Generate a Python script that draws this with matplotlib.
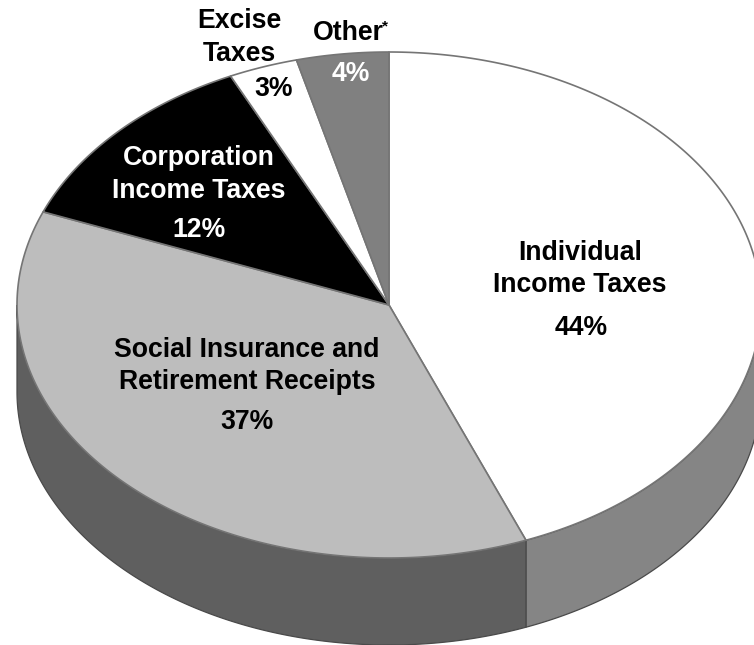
import numpy as np
import matplotlib
matplotlib.use("Agg")
import matplotlib.pyplot as plt

plt.rcParams['font.family'] = ['Liberation Sans', 'DejaVu Sans']

# Receipts by source, percent of total, clockwise from twelve o'clock
sources = ["Individual Income Taxes", "Social Insurance and Retirement Receipts",
           "Corporation Income Taxes", "Excise Taxes", "Other"]
shares = [44, 37, 12, 3, 4]
top_colors = ["#ffffff", "#bdbdbd", "#000000", "#ffffff", "#808080"]
side_colors = ["#858585", "#5f5f5f", "#5f5f5f", "#5f5f5f", "#5f5f5f"]

CX, CY, RX, RY, DEPTH = 389, 305, 372, 253, 87
EDGE = "#757575"

fig = plt.figure(figsize=(7.54, 6.45), dpi=100)
ax = fig.add_axes([0, 0, 1, 1])
ax.set_xlim(0, 754)
ax.set_ylim(645, 0)
ax.axis("off")


def rim(a0, a1, n=240):
    """Points on the top ellipse; angle runs clockwise from the top, in degrees."""
    t = np.radians(np.linspace(a0, a1, n))
    return CX + RX * np.sin(t), CY - RY * np.cos(t)


edges = np.concatenate([[0], np.cumsum(shares)]) * 360.0 / sum(shares)

# Side wall: only the lower half of the ellipse (90..270 degrees) is visible
for a0, a1, col in zip(edges[:-1], edges[1:], side_colors):
    lo, hi = max(a0, 90), min(a1, 270)
    if lo >= hi:
        continue
    x, y = rim(lo, hi)
    ax.fill(np.r_[x, x[::-1]], np.r_[y, y[::-1] + DEPTH],
            facecolor=col, edgecolor="#4a4a4a", linewidth=0.9, zorder=1)

# Top face
for a0, a1, col in zip(edges[:-1], edges[1:], top_colors):
    x, y = rim(a0, a1)
    ax.fill(np.r_[CX, x], np.r_[CY, y], facecolor=col, edgecolor=EDGE,
            linewidth=1.2, zorder=2, joinstyle="round")

# Slice labels
labels = [
    (580, 253, "Individual", "black"),
    (580, 285, "Income Taxes", "black"),
    (581, 328, "44%", "black"),
    (247, 350, "Social Insurance and", "black"),
    (247, 382, "Retirement Receipts", "black"),
    (247, 422, "37%", "black"),
    (199, 158, "Corporation", "white"),
    (199, 191, "Income Taxes", "white"),
    (199, 230, "12%", "white"),
    (239, 21, "Excise", "black"),
    (239, 54, "Taxes", "black"),
    (274, 89, "3%", "black"),
    (348, 33, "Other", "black"),
    (351, 74, "4%", "white"),
]
for x, y, s, c in labels:
    ax.text(x, y, s, color=c, ha="center", va="center",
            fontsize=19.2, fontweight="bold", zorder=3)
ax.text(385, 26, "*", color="black", ha="center", va="center",
        fontsize=11, fontweight="bold", zorder=3)

fig.savefig("out.png", dpi=100, facecolor="white")
